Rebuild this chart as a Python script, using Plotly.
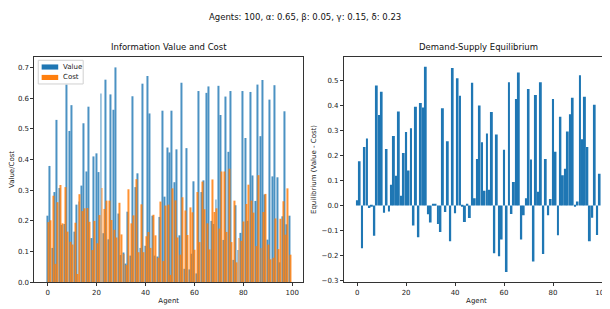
import numpy as np
import plotly.graph_objects as go

agents = list(range(100))
values = [0.217, 0.379, 0.112, 0.294, 0.529, 0.307, 0.187, 0.190, 0.644, 0.493,
          0.577, 0.165, 0.253, 0.263, 0.315, 0.518, 0.361, 0.572, 0.144, 0.410,
          0.420, 0.359, 0.615, 0.160, 0.660, 0.140, 0.612, 0.562, 0.700, 0.224,
          0.089, 0.097, 0.061, 0.230, 0.087, 0.606, 0.310, 0.355, 0.112, 0.647,
          0.119, 0.672, 0.550, 0.217, 0.087, 0.084, 0.213, 0.559, 0.279, 0.439,
          0.423, 0.559, 0.326, 0.433, 0.153, 0.650, 0.044, 0.437, 0.042, 0.093,
          0.329, 0.029, 0.623, 0.294, 0.332, 0.617, 0.638, 0.200, 0.190, 0.270,
          0.640, 0.545, 0.138, 0.605, 0.425, 0.623, 0.073, 0.251, 0.105, 0.161,
          0.623, 0.470, 0.200, 0.620, 0.348, 0.265, 0.644, 0.476, 0.659, 0.286,
          0.139, 0.595, 0.345, 0.642, 0.342, 0.065, 0.215, 0.557, 0.189, 0.217]
costs = [0.196, 0.202, 0.282, 0.060, 0.261, 0.317, 0.192, 0.310, 0.165, 0.132,
         0.123, 0.194, 0.027, 0.287, 0.232, 0.241, 0.242, 0.197, 0.105, 0.200,
         0.127, 0.219, 0.307, 0.239, 0.266, 0.266, 0.203, 0.171, 0.146, 0.259,
         0.156, 0.092, 0.056, 0.303, 0.192, 0.218, 0.336, 0.098, 0.254, 0.098,
         0.150, 0.164, 0.112, 0.220, 0.153, 0.080, 0.263, 0.069, 0.250, 0.253,
         0.024, 0.306, 0.267, 0.146, 0.090, 0.277, 0.234, 0.154, 0.244, 0.228,
         0.106, 0.294, 0.131, 0.328, 0.238, 0.192, 0.107, 0.335, 0.229, 0.241,
         0.175, 0.361, 0.361, 0.164, 0.370, 0.131, 0.266, 0.065, 0.144, 0.135,
         0.198, 0.255, 0.318, 0.266, 0.227, 0.118, 0.349, 0.112, 0.229, 0.288,
         0.123, 0.075, 0.080, 0.208, 0.108, 0.207, 0.264, 0.155, 0.306, 0.090]
series_names = ["Value", "Cost"]

x = np.array(agents, dtype=float)
eq = np.array(values) - np.array(costs)

# The page body has an 8px margin, so the figure is made 8px smaller and all
# screen positions below are shifted by that offset.
OFF = 8
W, H = 610 - OFF, 309 - OFF
BLUE = "#1f77b4"
ORANGE = "#ff7f0e"
FONT = "DejaVu Sans"

# plot areas in screen pixels
top_px, bot_px = 57.3, 286.0
L1, R1 = 34.5, 303.5
L2 = 344.5


def px(xp):
    return (xp - OFF) / W


def py(yp):
    return (H - (yp - OFF)) / H


ydom = [py(bot_px), py(top_px)]

fig = go.Figure()
fig.add_trace(go.Bar(x=x - 0.2, y=values, width=0.4, name=series_names[0],
                     marker=dict(color=BLUE, line=dict(width=0)), opacity=0.8,
                     showlegend=False, xaxis="x", yaxis="y"))
fig.add_trace(go.Bar(x=x + 0.2, y=costs, width=0.4, name=series_names[1],
                     marker=dict(color=ORANGE, line=dict(width=0)), opacity=0.85,
                     showlegend=False, xaxis="x", yaxis="y"))
fig.add_trace(go.Bar(x=x, y=eq, width=0.8, name="Equilibrium", showlegend=False,
                     marker=dict(color=BLUE, line=dict(width=0)),
                     xaxis="x2", yaxis="y2"))

axis_common = dict(showline=True, mirror=True, linecolor="#333", linewidth=1,
                   ticks="outside", ticklen=3, tickwidth=1, tickcolor="#333",
                   showgrid=False, zeroline=False, ticklabeloverflow="allow",
                   tickfont=dict(family=FONT, size=7, color="#222"))

# legend drawn as a box with patches (matplotlib style)
shapes = [
    dict(type="rect", xref="paper", yref="paper",
         x0=px(38.3), x1=px(83.3), y0=py(85), y1=py(61),
         fillcolor="rgba(255,255,255,0.8)", line=dict(color="#d0d0d0", width=1)),
    dict(type="rect", xref="paper", yref="paper",
         x0=px(41.7), x1=px(58.3), y0=py(70.4), y1=py(65.2),
         fillcolor=BLUE, line=dict(width=0)),
    dict(type="rect", xref="paper", yref="paper",
         x0=px(41.7), x1=px(58.3), y0=py(81.0), y1=py(75.8),
         fillcolor=ORANGE, line=dict(width=0)),
]

annotations = [
    dict(text="Agents: 100, α: 0.65, β: 0.05, γ: 0.15, δ: 0.23",
         x=px(305), y=py(17), xref="paper", yref="paper",
         showarrow=False, font=dict(family=FONT, size=8.5, color="#111"),
         xanchor="center", yanchor="middle"),
    dict(text="Information Value and Cost",
         x=px((L1 + R1) / 2), y=py(top_px - 3), xref="paper", yref="paper",
         showarrow=False, font=dict(family=FONT, size=8.5, color="#111"),
         xanchor="center", yanchor="bottom"),
    dict(text="Demand-Supply Equilibrium",
         x=px((L2 + 613.5) / 2), y=py(top_px - 3), xref="paper", yref="paper",
         showarrow=False, font=dict(family=FONT, size=8.5, color="#111"),
         xanchor="center", yanchor="bottom"),
    dict(text=series_names[0], x=px(61.5), y=py(67.8), xref="paper", yref="paper",
         showarrow=False, font=dict(family=FONT, size=7, color="#222"),
         xanchor="left", yanchor="middle"),
    dict(text=series_names[1], x=px(61.5), y=py(78.4), xref="paper", yref="paper",
         showarrow=False, font=dict(family=FONT, size=7, color="#222"),
         xanchor="left", yanchor="middle"),
]

fig.update_layout(
    width=W, height=H,
    margin=dict(l=0, r=0, t=0, b=0),
    paper_bgcolor="white", plot_bgcolor="white",
    barmode="overlay",
    showlegend=False,
    font=dict(family=FONT, size=7, color="#222"),
    xaxis=dict(domain=[px(L1), px(R1)], range=[-5.39, 104.39],
               tickvals=[0, 20, 40, 60, 80, 100], anchor="y",
               title=dict(text="Agent", font=dict(size=7), standoff=2),
               **axis_common),
    yaxis=dict(domain=ydom, range=[0, 0.735], anchor="x",
               tickvals=[0, 0.1, 0.2, 0.3, 0.4, 0.5, 0.6, 0.7], tickformat=".1f",
               title=dict(text="Value/Cost", font=dict(size=7), standoff=4),
               **axis_common),
    xaxis2=dict(domain=[px(L2), 1.0], range=[-5.39, 102.85],
                tickvals=[0, 20, 40, 60, 80, 100], anchor="y2",
                title=dict(text="Agent", font=dict(size=7), standoff=2),
                **axis_common),
    yaxis2=dict(domain=ydom, range=[-0.306, 0.594], anchor="x2",
                tickvals=[-0.3, -0.2, -0.1, 0, 0.1, 0.2, 0.3, 0.4, 0.5], tickformat=".1f",
                title=dict(text="Equilibrium (Value - Cost)", font=dict(size=7), standoff=4),
                **axis_common),
    shapes=shapes,
    annotations=annotations,
)

fig.write_html("out.html")
